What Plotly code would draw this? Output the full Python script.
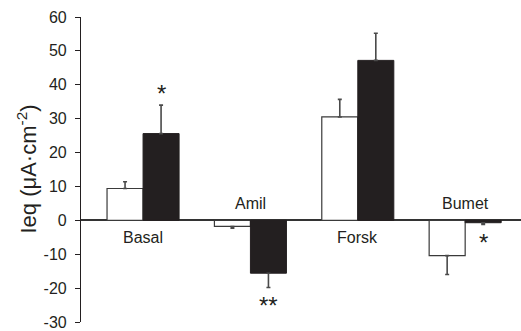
import plotly.graph_objects as go

# Short-circuit current per condition: control (open bars) vs treated (filled bars)
categories = ["Basal", "Amil", "Forsk", "Bumet"]
control_mean = [9.4, -1.8, 30.5, -10.4]
control_sem = [2.0, 0.5, 5.2, 5.6]
treated_mean = [25.6, -15.6, 47.2, -0.7]
treated_sem = [8.4, 4.2, 8.0, 0.5]
significance = ["*", "**", "", "*"]
y_ticks = [-30, -20, -10, 0, 10, 20, 30, 40, 50, 60]
y_tick_text = [str(v) for v in y_ticks]  # plain hyphen for negatives

x_pos = list(range(len(categories)))
ink = "#231f20"
font_family = "Liberation Sans, Arial, sans-serif"
half_bar = (1 - 0.329) / 4


def tips(means, errs):
    return [m + e if m >= 0 else m - e for m, e in zip(means, errs)]


fig = go.Figure()
fig.add_trace(go.Bar(
    x=x_pos, y=control_mean, name="Control",
    marker=dict(color="white", line=dict(color="#3a3a3a", width=1.2)),
))
fig.add_trace(go.Bar(
    x=x_pos, y=treated_mean, name="Treated",
    marker=dict(color=ink, line=dict(color=ink, width=1)),
))

# one-sided error bars: anchored at the whisker tip and reaching back to the bar
for sign, means, errs in ((-1, control_mean, control_sem), (1, treated_mean, treated_sem)):
    tip_y = tips(means, errs)
    toward_bar_up = [e if m < 0 else 0 for m, e in zip(means, errs)]
    toward_bar_down = [e if m >= 0 else 0 for m, e in zip(means, errs)]
    fig.add_trace(go.Scatter(
        x=[i + sign * half_bar for i in x_pos], y=tip_y, mode="markers",
        marker=dict(size=1, color="rgba(0,0,0,0)"), hoverinfo="skip",
        error_y=dict(type="data", symmetric=False, array=toward_bar_up,
                     arrayminus=toward_bar_down, color="#4a4a4a",
                     thickness=1.6, width=2),
    ))

annotations = []
for i, (cat, cm, tm) in enumerate(zip(categories, control_mean, treated_mean)):
    below = min(cm, tm) >= 0
    annotations.append(dict(
        x=i, y=0, xref="x", yref="y", text=cat, showarrow=False,
        font=dict(size=16, color=ink, family=font_family),
        yanchor="middle", yshift=-17 if below else 17,
    ))
treated_tips = tips(treated_mean, treated_sem)
for i, (mark, tm, tip) in enumerate(zip(significance, treated_mean, treated_tips)):
    if not mark:
        continue
    annotations.append(dict(
        x=i + half_bar, y=tip, xref="x", yref="y", text=mark, showarrow=False,
        font=dict(size=24, color=ink, family=font_family),
        yanchor="middle", yshift=12 if tm >= 0 else -18,
    ))

annotations.append(dict(
    x=-0.125, y=0.5, xref="paper", yref="paper", showarrow=False,
    text="Ieq (\u03bcA\u00b7cm<sup>-2</sup>)", textangle=-90,
    xanchor="center", yanchor="middle",
    font=dict(size=22, color=ink, family=font_family),
))

fig.update_layout(
    width=521, height=331,
    margin=dict(l=81, r=0, t=17, b=9),
    paper_bgcolor="white", plot_bgcolor="white",
    barmode="group", bargap=0.329, bargroupgap=0,
    showlegend=False,
    annotations=annotations,
    xaxis=dict(range=[-0.578, 3.52], showticklabels=False, ticks="",
               showgrid=False, zeroline=False, showline=False),
    yaxis=dict(range=[-30, 60], tickvals=y_ticks, ticktext=y_tick_text,
               ticks="outside", ticklen=5,
               tickwidth=1.2, tickcolor=ink, showline=True, linecolor=ink,
               linewidth=1.2, showgrid=False, zeroline=True, zerolinecolor="#333333",
               zerolinewidth=1.5, ticklabelstandoff=5,
               tickfont=dict(size=16, color=ink, family=font_family)),
)

fig.write_html("out.html")
